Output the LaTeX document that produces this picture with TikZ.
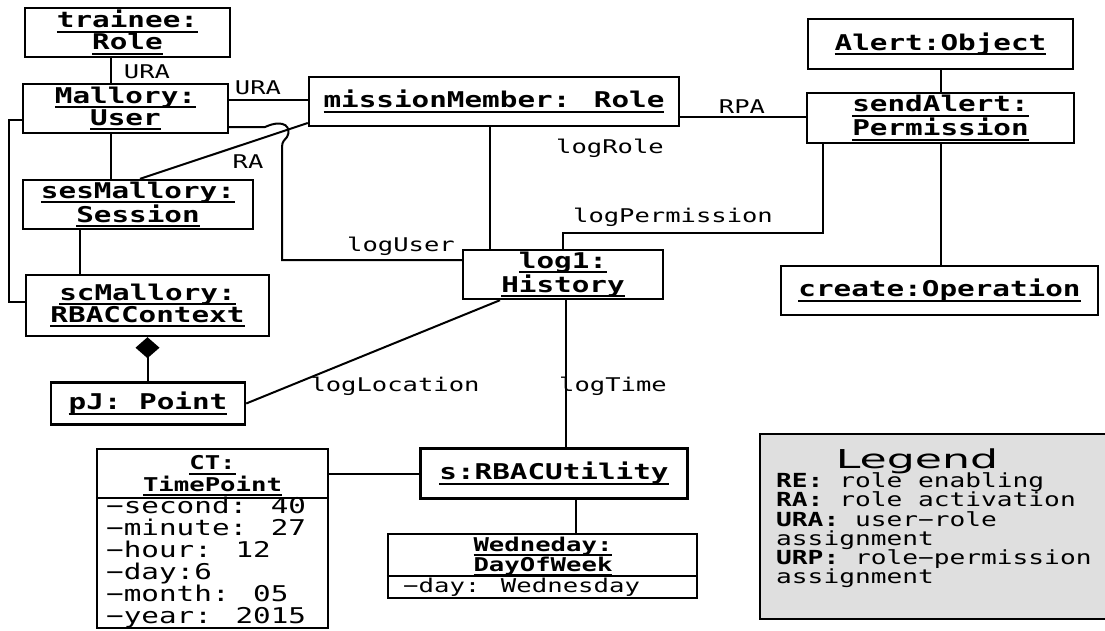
\documentclass[tikz,border=0pt]{standalone}
\usepackage{fontspec}
\usetikzlibrary{arrows.meta}
\newfontfamily\monof[FakeStretch=1.35]{DejaVu Sans Mono}
\newfontfamily\titlef[FakeStretch=1.7]{DejaVu Sans}
\newsavebox\ulbox
\newcommand\ulx[1]{\sbox\ulbox{#1}\rlap{\rule[-5pt]{\wd\ulbox}{2pt}}\usebox\ulbox}

\begin{document}
\begin{tikzpicture}[x=1pt,y=-1pt,
  obj/.style={draw, line width=2.4pt, inner sep=0pt, align=center,
    font=\monof\bfseries\fontsize{21.7}{22}\selectfont},
  smallname/.style={inner sep=0pt, align=center,
    font=\monof\bfseries\fontsize{19}{19}\selectfont},
  frame/.style={draw, line width=2.4pt, inner sep=0pt},
  conn/.style={line width=2pt},
  lbl/.style={inner sep=0pt, font=\monof\fontsize{18.9}{20}\selectfont},
  attr/.style={inner sep=0pt, align=left, anchor=west,
    font=\monof\fontsize{21.7}{22}\selectfont},
  legline/.style={inner sep=0pt, anchor=west, text height=14pt, text depth=4.5pt,
    font=\monof\fontsize{19.4}{19}\selectfont},
]
\useasboundingbox (0,0) rectangle (1105,630);

% object boxes
\node[obj, minimum width=205pt, minimum height=49pt] (trainee) at (127.5,32.5) {\ulx{trainee:}\\\ulx{Role}};
\node[obj, minimum width=205pt, minimum height=49pt] (mallory) at (125.5,108.5) {\ulx{Mallory:}\\\ulx{User}};
\node[obj, minimum width=370pt, minimum height=49pt] (member) at (494,101.5) {\ulx{missionMember: Role}};
\node[obj, minimum width=265pt, minimum height=50pt] (alert) at (940.5,44) {\ulx{Alert:Object}};
\node[obj, minimum width=267pt, minimum height=50pt] (send) at (940.5,118) {\ulx{sendAlert:}\\\ulx{Permission}};
\node[obj, minimum width=230pt, minimum height=49pt] (ses) at (138,204.5) {\ulx{sesMallory:}\\\ulx{Session}};
\node[obj, minimum width=200pt, minimum height=49pt] (log) at (563,274.5) {\ulx{log1:}\\\ulx{History}};
\node[obj, minimum width=317pt, minimum height=49pt] (create) at (939.5,290.5) {\ulx{create:Operation}};
\node[obj, minimum width=243pt, minimum height=61pt] (sc) at (147.5,305.5) {\ulx{scMallory:}\\\ulx{RBACContext}};
\node[obj, minimum width=194pt, minimum height=42pt] (pj) at (148,403.5) {\ulx{pJ: Point}};
\node[obj, minimum width=267pt, minimum height=50pt] (util) at (554,473.5) {\ulx{s:RBACUtility}};

% CT: TimePoint with attribute compartment
\node[frame, minimum width=231pt, minimum height=179pt] (ct) at (212.5,538.5) {};
\draw[conn] ([yshift=40.5pt]ct.west) -- ([yshift=40.5pt]ct.east);
\node[smallname] (cthead) at (212.5,476) {\ulx{CT:}\\\ulx{TimePoint}};
\node[attr] (ctattr) at (106,563) {−second: 40\\−minute: 27\\−hour: 12\\−day:6\\−month: 05\\−year: 2015};

% Wedneday: DayOfWeek with attribute compartment
\node[frame, minimum width=309pt, minimum height=64pt] (wed) at (542.5,566) {};
\draw[conn] ([yshift=-10pt]wed.west) -- ([yshift=-10pt]wed.east);
\node[smallname] (wedhead) at (543,556.5) {\ulx{Wedneday:}\\\ulx{DayOfWeek}};
\node[attr, font=\monof\fontsize{19}{19}\selectfont] (wedattr) at (403,587) {−day: Wednesday};

% connectors
\draw[conn] ([xshift=-16.5pt]trainee.south) -- ([xshift=-14.5pt]mallory.north);
\draw[conn] ([yshift=8.5pt]mallory.east) coordinate (ura) -- (ura -| member.west);
\draw[conn] ([yshift=-18.5pt]mallory.east) -- (265,127)
  .. controls (285,118) and (292,128) .. (287,137)
  .. controls (285,140) and (282,141) .. (282,147)
  |- ([yshift=14.5pt]log.west);
\draw[conn] ([xshift=2pt]ses.north) -- ([yshift=-21.5pt]member.west);
\draw[conn] ([xshift=-14.5pt]mallory.south) -- ([xshift=-27pt]ses.north);
\draw[conn] ([xshift=-58pt]ses.south) -- ([xshift=-67.5pt]sc.north);
\draw[conn] ([yshift=-11.5pt]mallory.west) -- ++(-13,0) |- ([yshift=3.5pt]sc.west);
\draw[conn] ([xshift=-4pt]member.south) -- ([xshift=-73pt]log.north);
\draw[conn] ([yshift=-15.5pt]member.east) coordinate (rpa) -- (rpa -| send.west);
\draw[conn] ([xshift=-117.5pt]send.south) -- ++(0,89) -| (log.north);
\draw[conn] (alert.south) -- (send.north);
\draw[conn] (send.south) -- (send.south |- create.north);
\draw[conn] ([xshift=-63pt]log.south) -- (pj.east);
\draw[conn] ([xshift=3pt]log.south) coordinate (lt) -- (lt |- util.north);
\draw[conn] (util.west) -- (util.west -| ct.east);
\draw[conn] ([xshift=22pt]util.south) coordinate (uw) -- (uw |- wed.north);
\draw[conn, {Diamond[length=21pt,width=24pt]}-] (sc.south) -- (sc.south |- pj.north);

% connector labels
\node[lbl] (l1) at (147,72) {URA};
\node[lbl] (l2) at (258,88) {URA};
\node[lbl] (l3) at (248,162) {RA};
\node[lbl] (l4) at (742,107) {RPA};
\node[lbl] (l5) at (610,148) {logRole};
\node[lbl] (l6) at (673,217) {logPermission};
\node[lbl] (l7) at (401,246) {logUser};
\node[lbl] (l8) at (395,386) {logLocation};
\node[lbl] (l9) at (613,386) {logTime};

% legend
\node[draw, line width=2pt, fill=gray!25, inner sep=0pt, anchor=north west,
  minimum width=352pt, minimum height=185pt] (legend) at (759,433) {};
\node[inner sep=0pt, font=\titlef\fontsize{26}{28}\selectfont] (legtitle) at (917,461) {Legend};
\node[legline] (lg1) at (776,483) {\textbf{RE:} role enabling};
\node[legline] (lg2) at (776,502.2) {\textbf{RA:} role activation};
\node[legline] (lg3) at (776,521.4) {\textbf{URA:} user−role};
\node[legline] (lg4) at (776,540.6) {assignment};
\node[legline] (lg5) at (776,559.8) {\textbf{URP:} role−permission};
\node[legline] (lg6) at (776,579) {assignment};
\end{tikzpicture}
\end{document}
